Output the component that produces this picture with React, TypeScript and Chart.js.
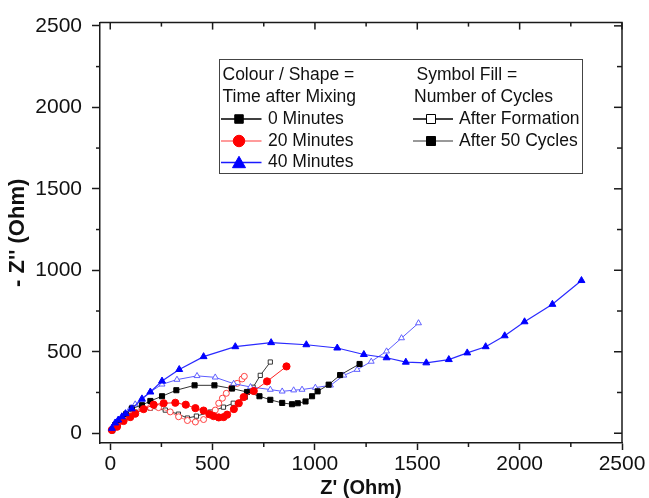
import React, { useEffect, useRef } from "react";
import { Chart, registerables } from "chart.js";

Chart.register(...registerables);

// ---------- data ----------
const xTickValues = [0, 500, 1000, 1500, 2000, 2500];
const yTickValues = [0, 500, 1000, 1500, 2000, 2500];
const minorTickValues = [250, 750, 1250, 1750, 2250];

// 40 Minutes, after 50 cycles (filled blue triangles)
const blueFilledX = [8, 24, 39, 57, 75, 105, 155, 196, 253, 337, 456, 611, 786, 958, 1109, 1239, 1350, 1444, 1544, 1654, 1744, 1834, 1927, 2024, 2160, 2302];
const blueFilledY = [30, 63, 81, 101, 120, 150, 209, 253, 320, 391, 470, 531, 556, 543, 523, 483, 463, 436, 432, 452, 493, 531, 598, 684, 791, 937];

// 40 Minutes, after formation (open blue triangles)
const blueOpenX = [7, 16, 34, 54, 73, 98, 122, 155, 196, 253, 326, 424, 513, 603, 685, 782, 840, 896, 937, 1002, 1076, 1141, 1206, 1275, 1350, 1423, 1506];
const blueOpenY = [20, 40, 69, 93, 122, 154, 178, 215, 254, 300, 329, 352, 343, 304, 284, 268, 257, 264, 268, 280, 294, 355, 390, 440, 503, 584, 676];

// 0 Minutes, after 50 cycles (filled black squares)
const blackFilledX = [10, 24, 49, 78, 106, 155, 196, 253, 323, 412, 509, 595, 668, 729, 782, 840, 888, 916, 954, 986, 1013, 1067, 1123, 1218];
const blackFilledY = [20, 50, 81, 117, 152, 172, 198, 227, 264, 294, 294, 274, 253, 227, 205, 186, 178, 184, 195, 227, 257, 298, 357, 425];

// 0 Minutes, after formation (open black squares)
const blackOpenX = [10, 39, 73, 122, 196, 269, 333, 377, 421, 489, 553, 601, 660, 698, 733, 782];
const blackOpenY = [14, 50, 93, 130, 154, 142, 117, 93, 105, 130, 160, 184, 221, 282, 355, 437];

// 20 Minutes, after 50 cycles (filled red circles)
const redFilledX = [8, 33, 65, 98, 122, 163, 212, 261, 318, 369, 416, 456, 484, 505, 530, 554, 571, 604, 628, 652, 701, 766, 861];
const redFilledY = [20, 40, 75, 99, 120, 148, 175, 184, 187, 175, 154, 139, 117, 105, 97, 99, 114, 148, 184, 222, 259, 318, 410];

// 20 Minutes, after formation (open red circles)
const redOpenX = [7, 24, 44, 73, 114, 155, 196, 236, 293, 334, 377, 416, 456, 489, 513, 530, 548, 567, 592, 620, 644, 655];
const redOpenY = [20, 41, 69, 101, 131, 152, 158, 157, 131, 101, 78, 69, 84, 111, 142, 184, 215, 245, 279, 306, 333, 349];

const legendLeftHeader = ["Colour / Shape =", "Time after Mixing"];
const legendLeftItems = ["0 Minutes", "20 Minutes", "40 Minutes"];
const legendRightHeader = ["Symbol Fill =", "Number of Cycles"];
const legendRightItems = ["After Formation", "After 50 Cycles"];

const xTitle = "Z' (Ohm)";
const yTitle = "- Z'' (Ohm)";

// ---------- helpers ----------
const FONT = '"Liberation Sans", Arial, Helvetica, sans-serif';
const AXIS = "#1a1a1a";

const zip = (xs: number[], ys: number[]) => xs.map((x, i) => ({ x, y: ys[i] }));

function drawMarker(ctx: CanvasRenderingContext2D, kind: string, x: number, y: number, s: number, fill: string, stroke: string) {
  ctx.beginPath();
  if (kind === "rect") {
    ctx.rect(x - s / 2, y - s / 2, s, s);
  } else if (kind === "circle") {
    ctx.arc(x, y, s / 2, 0, Math.PI * 2);
  } else {
    const h = s * 0.8;
    ctx.moveTo(x, y - h / 2 - 1);
    ctx.lineTo(x + s / 2, y + h / 2);
    ctx.lineTo(x - s / 2, y + h / 2);
    ctx.closePath();
  }
  ctx.fillStyle = fill;
  ctx.fill();
  ctx.lineWidth = 1;
  ctx.strokeStyle = stroke;
  ctx.stroke();
}

function seg(ctx: CanvasRenderingContext2D, x1: number, y1: number, x2: number, y2: number) {
  ctx.beginPath();
  ctx.moveTo(x1, y1);
  ctx.lineTo(x2, y2);
  ctx.stroke();
}

const framePlugin = {
  id: "frameAndMinor",
  afterDraw(chart: any) {
    const { ctx, chartArea: a, scales } = chart;
    const xs = scales.x;
    const ys = scales.y;
    ctx.save();
    ctx.strokeStyle = AXIS;
    ctx.lineWidth = 1.5;
    // top & right frame
    ctx.beginPath();
    ctx.moveTo(a.left, a.top);
    ctx.lineTo(a.right, a.top);
    ctx.lineTo(a.right, a.bottom);
    ctx.stroke();
    // minor outward ticks on bottom/left
    for (const v of minorTickValues) {
      const px = xs.getPixelForValue(v);
      seg(ctx, px, a.bottom, px, a.bottom + 4);
      const py = ys.getPixelForValue(v);
      seg(ctx, a.left - 4, py, a.left, py);
    }
    // inward ticks on top/right
    for (const v of xTickValues) {
      const px = xs.getPixelForValue(v);
      seg(ctx, px, a.top, px, a.top + 7);
    }
    for (const v of minorTickValues) {
      const px = xs.getPixelForValue(v);
      seg(ctx, px, a.top, px, a.top + 4);
    }
    for (const v of yTickValues) {
      const py = ys.getPixelForValue(v);
      seg(ctx, a.right - 8, py, a.right, py);
    }
    for (const v of minorTickValues) {
      const py = ys.getPixelForValue(v);
      seg(ctx, a.right - 5, py, a.right, py);
    }
    ctx.restore();
  },
};

const legendPlugin = {
  id: "customLegend",
  afterDraw(chart: any) {
    const ctx: CanvasRenderingContext2D = chart.ctx;
    ctx.save();
    // box
    const L = 219, T = 59, R = 583, B = 174;
    ctx.fillStyle = "#ffffff";
    ctx.fillRect(L, T, R - L, B - T);
    ctx.strokeStyle = "#444";
    ctx.lineWidth = 1;
    ctx.strokeRect(L + 0.5, T + 0.5, R - L - 1, B - T - 1);

    ctx.font = `17.5px ${FONT}`;
    ctx.fillStyle = "#111";
    ctx.textBaseline = "middle";
    ctx.textAlign = "left";
    const rows = [75.5, 97.5, 119, 141, 162.5];

    ctx.fillText(legendLeftHeader[0], 222.5, rows[0]);
    ctx.fillText(legendLeftHeader[1], 222.5, rows[1]);
    ctx.fillText(legendRightHeader[0], 416.5, rows[0]);
    ctx.fillText(legendRightHeader[1], 414, rows[1]);

    const leftSpecs = [
      { line: "#000000", kind: "rect", size: 8.5, fill: "#000", stroke: "#000" },
      { line: "#ff7a7a", kind: "circle", size: 11.5, fill: "#ff0000", stroke: "#ff0000" },
      { line: "#1a1aff", kind: "tri", size: 13, fill: "#0000ff", stroke: "#0000ff" },
    ];
    leftSpecs.forEach((s, i) => {
      const y = rows[2 + i];
      ctx.strokeStyle = s.line;
      ctx.lineWidth = 1.3;
      seg(ctx, 221, y, 261.5, y);
      drawMarker(ctx, s.kind, 239, y, s.size, s.fill, s.stroke);
      ctx.fillStyle = "#111";
      ctx.fillText(legendLeftItems[i], 268, y);
    });

    const rightSpecs = [
      { line: "#000", fill: "#ffffff" },
      { line: "#777", fill: "#000000" },
    ];
    rightSpecs.forEach((s, i) => {
      const y = rows[2 + i];
      ctx.strokeStyle = s.line;
      ctx.lineWidth = 1.3;
      seg(ctx, 413, y, 453, y);
      drawMarker(ctx, "rect", 431, y, 9, s.fill, "#000");
      ctx.fillStyle = "#111";
      ctx.fillText(legendRightItems[i], 459, y);
    });
    ctx.restore();
  },
};

export default function App() {
  const canvasRef = useRef<HTMLCanvasElement | null>(null);

  useEffect(() => {
    if (!canvasRef.current) return;
    const datasets: any[] = [
      {
        label: "40 Minutes - After 50 Cycles",
        data: zip(blueFilledX, blueFilledY),
        showLine: true,
        borderColor: "#2a2aff",
        borderWidth: 1.2,
        pointStyle: "triangle",
        pointRadius: 4,
        pointBackgroundColor: "#0000ff",
        pointBorderColor: "#0000ff",
        pointBorderWidth: 1,
      },
      {
        label: "20 Minutes - After 50 Cycles",
        data: zip(redFilledX, redFilledY),
        showLine: true,
        borderColor: "#ff2020",
        borderWidth: 1,
        pointStyle: "circle",
        pointRadius: 3.6,
        pointBackgroundColor: "#ff0000",
        pointBorderColor: "#ff0000",
        pointBorderWidth: 1,
      },
      {
        label: "0 Minutes - After 50 Cycles",
        data: zip(blackFilledX, blackFilledY),
        showLine: true,
        borderColor: "#333333",
        borderWidth: 1,
        pointStyle: "rect",
        pointRadius: 3.6,
        pointBackgroundColor: "#000",
        pointBorderColor: "#000",
        pointBorderWidth: 1,
      },
      {
        label: "40 Minutes - After Formation",
        data: zip(blueOpenX, blueOpenY),
        showLine: true,
        borderColor: "#5c5cff",
        borderWidth: 1,
        pointStyle: "triangle",
        pointRadius: 3.4,
        pointBackgroundColor: "#ffffff",
        pointBorderColor: "#5050ff",
        pointBorderWidth: 0.9,
      },
      {
        label: "20 Minutes - After Formation",
        data: zip(redOpenX, redOpenY),
        showLine: true,
        borderColor: "#ff6a6a",
        borderWidth: 0.9,
        pointStyle: "circle",
        pointRadius: 3,
        pointBackgroundColor: "#ffffff",
        pointBorderColor: "#ff3030",
        pointBorderWidth: 0.9,
      },
      {
        label: "0 Minutes - After Formation",
        data: zip(blackOpenX, blackOpenY),
        showLine: true,
        borderColor: "#222",
        borderWidth: 0.9,
        pointStyle: "rect",
        pointRadius: 3,
        pointBackgroundColor: "#ffffff",
        pointBorderColor: "#222",
        pointBorderWidth: 0.9,
      },
    ];

    const chart = new Chart(canvasRef.current, {
      type: "scatter",
      data: { datasets },
      plugins: [framePlugin, legendPlugin],
      options: {
        responsive: false,
        animation: false,
        events: [],
        layout: { padding: { left: 0, right: 27, top: 20, bottom: 0 } },
        plugins: { legend: { display: false }, tooltip: { enabled: false }, title: { display: false } },
        scales: {
          x: {
            type: "linear",
            min: -50,
            max: 2500,
            afterBuildTicks: (s: any) => {
              s.ticks = xTickValues.map((v) => ({ value: v }));
            },
            afterFit: (s: any) => {
              s.height = 55;
            },
            ticks: {
              callback: (v: any) => String(v),
              font: { family: FONT, size: 21 },
              color: "#111",
              padding: 2,
              maxRotation: 0,
              autoSkip: false,
            },
            grid: { display: true, drawOnChartArea: false, drawTicks: true, tickLength: 7, tickColor: AXIS, tickWidth: 1.5 },
            border: { display: true, color: AXIS, width: 1.5 },
            title: {
              display: true,
              text: xTitle,
              font: { family: FONT, size: 20, weight: "bold", lineHeight: 1 },
              color: "#111",
              padding: { top: 0, bottom: 0 },
            },
          },
          y: {
            type: "linear",
            min: -60,
            max: 2520,
            afterBuildTicks: (s: any) => {
              s.ticks = yTickValues.map((v) => ({ value: v }));
            },
            afterFit: (s: any) => {
              s.width = 100;
            },
            ticks: {
              callback: (v: any) => String(v),
              font: { family: FONT, size: 21 },
              color: "#111",
              padding: 10,
              autoSkip: false,
            },
            grid: { display: true, drawOnChartArea: false, drawTicks: true, tickLength: 8, tickColor: AXIS, tickWidth: 1.5 },
            border: { display: true, color: AXIS, width: 1.5 },
            title: {
              display: true,
              text: yTitle,
              font: { family: FONT, size: 22, weight: "bold", lineHeight: 1 },
              color: "#111",
              padding: { top: 7, bottom: 0 },
            },
          },
        },
      } as any,
    });
    return () => chart.destroy();
  }, []);

  return (
    <div style={{ position: "absolute", left: 0, top: 0, width: 649, height: 498, background: "#fff" }}>
      <canvas ref={canvasRef} width={649} height={498} style={{ display: "block" }} />
    </div>
  );
}
